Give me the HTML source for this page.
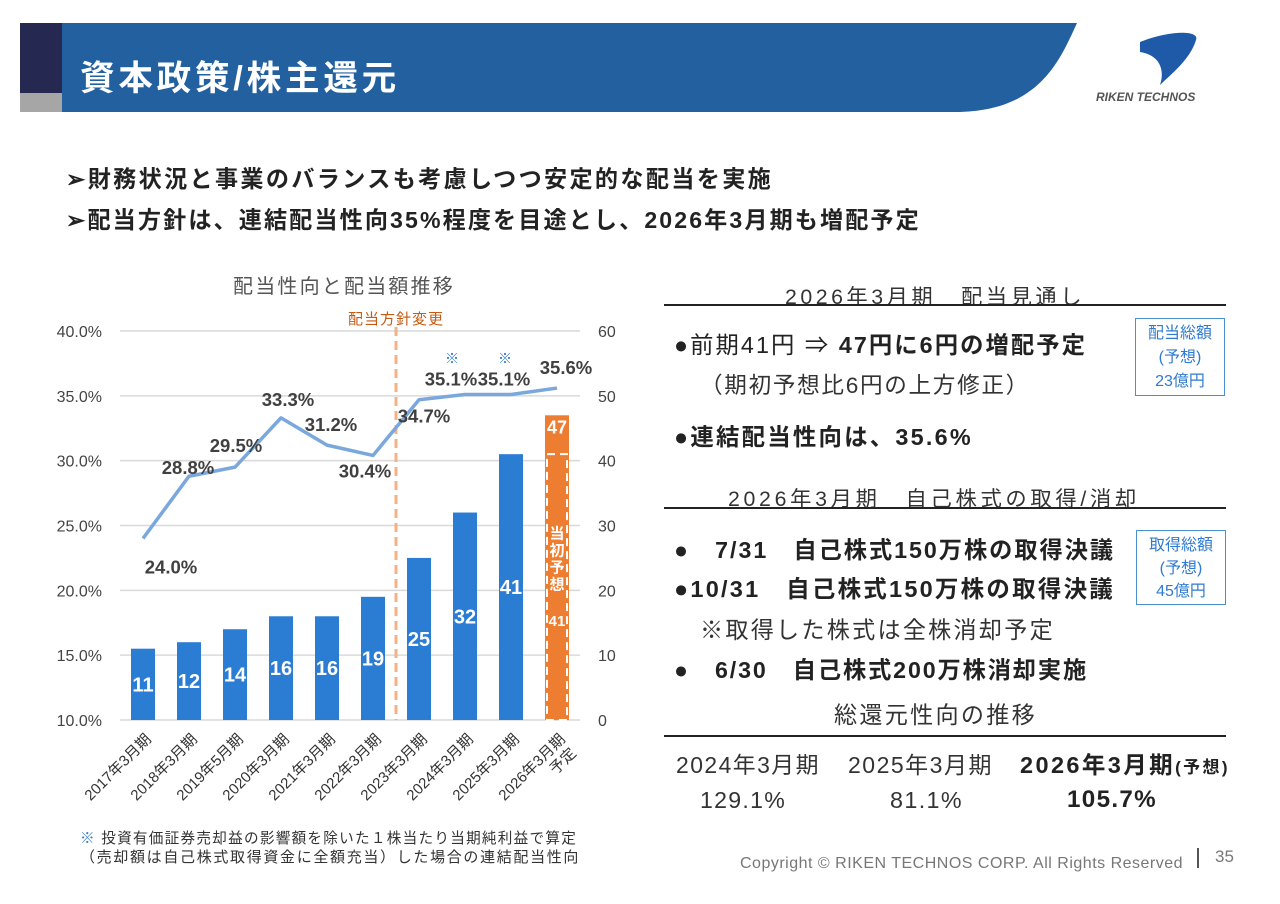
<!DOCTYPE html>
<html><head><meta charset="utf-8"><style>
body{margin:0;width:1280px;height:904px;background:#fff;font-family:"Liberation Sans","Noto Sans CJK JP",sans-serif;position:relative;overflow:hidden;color:#222}
.a{position:absolute;white-space:nowrap}
</style></head><body>
<svg class="a" style="left:0;top:0" width="1280" height="130">
<rect x="20" y="23" width="42" height="70" fill="#252850"/>
<rect x="20" y="93" width="42" height="19" fill="#a6a6a6"/>
<path d="M62 23 H1077 C1060 60 1040 110 960 112 H62 Z" fill="#2260a0"/>
<path d="M1140 42 C1170 30 1200 30 1196 40 C1190 60 1170 75 1160 85 C1165 70 1160 55 1140 52 Z" fill="#1f5aa8"/>
<text x="1096" y="101" font-size="12" font-weight="bold" font-style="italic" fill="#555" font-family="Liberation Sans">RIKEN TECHNOS</text>
</svg>
<div class="a fit" data-w="320" style="left:80px;top:50px;font-size:31px;font-weight:bold;color:#fff">資本政策/株主還元</div>
<div class="a fit" data-w="707" style="left:66px;top:160px;font-size:21px;font-weight:bold">➢財務状況と事業のバランスも考慮しつつ安定的な配当を実施</div>
<div class="a fit" data-w="855" style="left:66px;top:201px;font-size:21px;font-weight:bold">➢配当方針は、連結配当性向35%程度を目途とし、2026年3月期も増配予定</div>

<div class="a fit" data-w="222" style="left:233px;top:270px;font-size:18px;color:#555">配当性向と配当額推移</div>
<svg id="chart" class="a" style="left:0;top:290px" width="640" height="590"></svg>
<div class="a fit" data-w="497" style="left:80px;top:827px;font-size:13.5px;color:#333"><span style="color:#2f7bd0">※</span> 投資有価証券売却益の影響額を除いた１株当たり当期純利益で算定</div>
<div class="a fit" data-w="500" style="left:80px;top:846px;font-size:13.5px;color:#333">（売却額は自己株式取得資金に全額充当）した場合の連結配当性向</div>

<div class="a fit" data-w="300" style="left:785px;top:280px;font-size:19px;color:#333">2026年3月期　配当見通し</div>
<div class="a" style="left:664px;top:304px;width:562px;height:2px;background:#222"></div>
<div class="a fit" data-w="413" style="left:674px;top:326px;font-size:21px">●前期41円 ⇒ <b>47円に6円の増配予定</b></div>
<div class="a fit" data-w="330" style="left:700px;top:367px;font-size:21px;color:#333">（期初予想比6円の上方修正）</div>
<div class="a fit" data-w="299" style="left:674px;top:418px;font-size:21px;font-weight:bold">●連結配当性向は、35.6%</div>
<div class="a" style="left:1135px;top:318px;width:90px;height:78px;border:1px solid #4a90d0;color:#2f7bd0;font-size:16px;text-align:center;line-height:24px;box-sizing:border-box;padding-top:3px">配当総額<br>(予想)<br>23億円</div>

<div class="a fit" data-w="412" style="left:728px;top:482px;font-size:19px;color:#333">2026年3月期　自己株式の取得/消却</div>
<div class="a" style="left:664px;top:507px;width:562px;height:2px;background:#222"></div>
<div class="a fit" data-w="441" style="left:674px;top:531px;font-size:21px;font-weight:bold">●　7/31　自己株式150万株の取得決議</div>
<div class="a fit" data-w="441" style="left:674px;top:570px;font-size:21px;font-weight:bold">●10/31　自己株式150万株の取得決議</div>
<div class="a fit" data-w="355" style="left:700px;top:611px;font-size:21px;color:#333">※取得した株式は全株消却予定</div>
<div class="a fit" data-w="414" style="left:674px;top:651px;font-size:21px;font-weight:bold">●　6/30　自己株式200万株消却実施</div>
<div class="a" style="left:1136px;top:530px;width:90px;height:75px;border:1px solid #4a90d0;color:#2f7bd0;font-size:16px;text-align:center;line-height:23px;box-sizing:border-box;padding-top:3px">取得総額<br>(予想)<br>45億円</div>

<div class="a fit" data-w="203" style="left:834px;top:696px;font-size:21px;color:#333">総還元性向の推移</div>
<div class="a" style="left:664px;top:735px;width:562px;height:2px;background:#222"></div>
<div class="a fit" data-w="144" style="left:676px;top:746px;font-size:21px;color:#333">2024年3月期</div>
<div class="a fit" data-w="145" style="left:848px;top:746px;font-size:21px;color:#333">2025年3月期</div>
<div class="a fit" data-w="210" style="left:1020px;top:746px;font-size:21px;font-weight:bold">2026年3月期<span style="font-size:17px">(予想)</span></div>
<div class="a fit" data-w="86" style="left:700px;top:787px;font-size:21px;color:#333">129.1%</div>
<div class="a fit" data-w="73" style="left:890px;top:787px;font-size:21px;color:#333">81.1%</div>
<div class="a fit" data-w="90" style="left:1067px;top:786px;font-size:22px;font-weight:bold">105.7%</div>

<div class="a fit" data-w="443" style="left:740px;top:855px;font-size:15px;color:#777">Copyright © RIKEN TECHNOS CORP. All Rights Reserved</div>
<div class="a" style="left:1197px;top:848px;width:2px;height:20px;background:#555"></div>
<div class="a" style="left:1215px;top:847px;font-size:17px;color:#777">35</div>

<script>
const categories=["2017年3月期","2018年3月期","2019年5月期","2020年3月期","2021年3月期","2022年3月期","2023年3月期","2024年3月期","2025年3月期","2026年3月期"];
const dividends=[11,12,14,16,16,19,25,32,41,47];
const payoutRatios=[24.0,28.8,29.5,33.3,31.2,30.4,34.7,35.1,35.1,35.6];
const leftTicks=[10,15,20,25,30,35,40];
const rightTicks=[0,10,20,30,40,50,60];
const initialForecast=41;

(function(){
document.querySelectorAll('.fit').forEach(el=>{
 el.style.display='inline-block';
 let w=el.getBoundingClientRect().width;
 const target=+el.getAttribute('data-w');
 const ratio=target/w;
 if(ratio>1){
  const fs=parseFloat(getComputedStyle(el).fontSize);
  el.style.fontSize=(fs*Math.min(Math.sqrt(ratio),1.12)).toFixed(1)+'px';
  w=el.getBoundingClientRect().width;
 }
 const n=el.textContent.length;
 if(n>1){const ls=(target-w)/n;el.style.letterSpacing=ls.toFixed(2)+'px';}
});
const svg=document.getElementById('chart');
const NS='http://www.w3.org/2000/svg';
const OY=290;
const x0=120,x1=580,plotTop=331-OY,bot=720-OY;
const band=(x1-x0)/categories.length;
const xc=i=>x0+band*(i+0.5);
const yL=v=>bot-(v-10)/30*(bot-plotTop);
const yR=v=>bot-v/60*(bot-plotTop);
function mk(t,a,txt){const e=document.createElementNS(NS,t);for(const k in a)e.setAttribute(k,a[k]);if(txt!=null)e.textContent=txt;svg.appendChild(e);return e;}

leftTicks.forEach(v=>{
 const g=mk('line',{x1:x0,x2:x1,y1:yL(v),y2:yL(v),stroke:'#d9d9d9','stroke-width':1.5});
 
 
 const t=mk('text',{x:102,y:yL(v)+6,'text-anchor':'end','font-size':16,fill:'#444'},v.toFixed(1)+'%');
 
 
});
rightTicks.forEach(v=>{
 const t=mk('text',{x:598,y:yR(v)+6,'font-size':16,fill:'#444'},String(v));
 
 
});
const bw=24;
dividends.forEach((v,i)=>{
 const last=i===categories.length-1;
 const r=mk('rect',{x:xc(i)-bw/2,y:yR(v),width:bw,height:bot-yR(v),fill:last?'#ed7d31':'#2b7cd3'});
 
 
 if(last){
  const d=mk('rect',{x:xc(i)-bw/2+2,y:yR(initialForecast),width:bw-4,height:bot-yR(initialForecast),fill:'none',stroke:'#fff','stroke-width':2,'stroke-dasharray':'8,5'});
  
  
  const l=mk('text',{x:xc(i),y:yR(v)+18,'text-anchor':'middle','font-size':18,'font-weight':'bold',fill:'#fff'},String(v));
  
  
  ['当','初','予','想'].forEach((c,k)=>{const ct=mk('text',{x:xc(i),y:yR(28)+k*17,'text-anchor':'middle','font-size':15,'font-weight':'bold',fill:'#fff'},c);
   
   });
  const f=mk('text',{x:xc(i),y:yR(14.5),'text-anchor':'middle','font-size':15,'font-weight':'bold',fill:'#fff'},String(initialForecast));
  
  
 } else {
  const l=mk('text',{x:xc(i),y:(yR(v)+bot)/2+7,'text-anchor':'middle','font-size':20,'font-weight':'bold',fill:'#fff'},String(v));
  
  
 }
 const tl=mk('text',{'text-anchor':'end','font-size':15,fill:'#333',transform:`translate(${xc(i)+9},${bot+20}) rotate(-45)`},categories[i]);
 
 
 if(last){const t2=mk('text',{'text-anchor':'end','font-size':15,fill:'#333',transform:`translate(${xc(i)+20},${bot+34}) rotate(-45)`},'予定');
  
  }
});
const vx=(xc(5)+xc(6))/2;
const vl=mk('line',{x1:vx,x2:vx,y1:plotTop-4,y2:bot,stroke:'#f4b183','stroke-width':3,'stroke-dasharray':'9,5'});


const vt=mk('text',{x:vx,y:plotTop-7,'text-anchor':'middle','font-size':15,'letter-spacing':1,fill:'#c55a11'},'配当方針変更');


const pts=payoutRatios.map((v,i)=>xc(i)+','+yL(v)).join(' ');
const pl=mk('polyline',{points:pts,fill:'none',stroke:'#7aa8dd','stroke-width':3.5,'stroke-linejoin':'round'});


const offs=[[28,28],[-1,-9],[1,-22],[7,-19],[4,-21],[-8,15],[5,16],[-14,-16],[-7,-16],[9,-21]];
payoutRatios.forEach((v,i)=>{
 const t=mk('text',{x:xc(i)+offs[i][0],y:yL(v)+offs[i][1]+7,'text-anchor':'middle','font-size':18.5,'font-weight':'bold',fill:'#404040'},v.toFixed(1)+'%');
 
 
 if(i===7||i===8){const m=mk('text',{x:xc(i)+offs[i][0]+1,y:yL(v)-31,'text-anchor':'middle','font-size':14,fill:'#2f7bd0'},'※');
  
  }
});
})();
</script>
</body></html>
